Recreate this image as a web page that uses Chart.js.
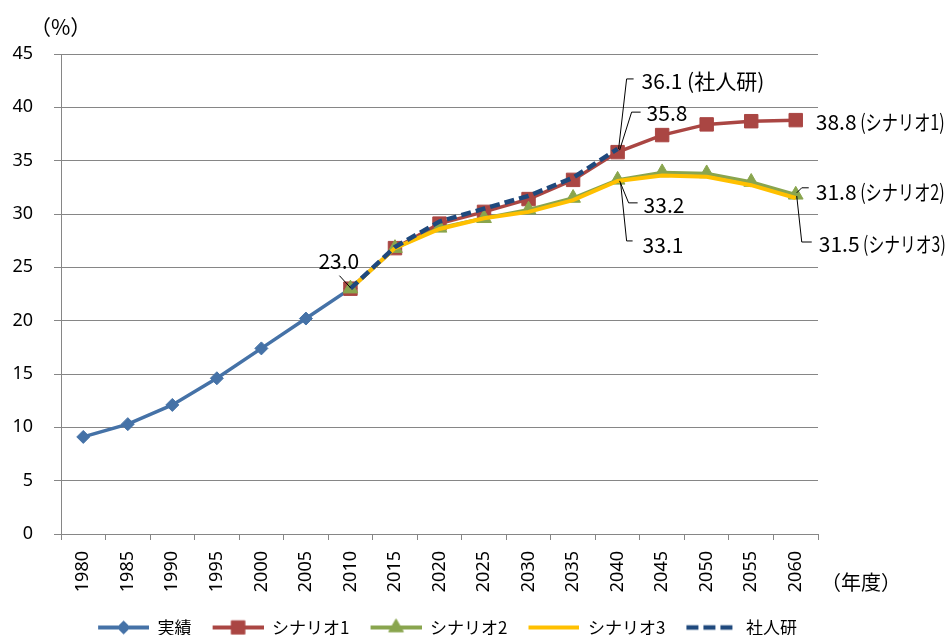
<!DOCTYPE html>
<html>
<head>
<meta charset="utf-8">
<script src="https://cdn.jsdelivr.net/npm/chart.js@4/dist/chart.umd.min.js"></script>
<style>
  html, body { margin: 0; padding: 0; background: #fff; }
  #wrap { width: 946px; height: 635px; }
</style>
</head>
<body>
<div id="wrap"><canvas id="c" width="946" height="635"></canvas></div>
<script>
// 年度
const years = ['1980','1985','1990','1995','2000','2005','2010','2015','2020','2025','2030',
               '2035','2040','2045','2050','2055','2060'];
// 実績 (%)
const actual    = [9.1, 10.3, 12.1, 14.6, 17.4, 20.2, 23.0, null, null, null, null, null, null, null, null, null, null];
// シナリオ1
const scenario1 = [null, null, null, null, null, null, 23.0, 26.8, 29.1, 30.2, 31.4, 33.2, 35.8, 37.4, 38.4, 38.7, 38.8];
// シナリオ2
const scenario2 = [null, null, null, null, null, null, 23.0, 26.8, 28.7, 29.6, 30.4, 31.5, 33.2, 33.9, 33.8, 33.0, 31.8];
// シナリオ3
const scenario3 = [null, null, null, null, null, null, 23.0, 26.8, 28.6, 29.6, 30.2, 31.3, 33.1, 33.6, 33.5, 32.7, 31.5];
// 社人研
const ipss      = [null, null, null, null, null, null, 23.0, 26.9, 29.3, 30.5, 31.7, 33.4, 36.1, null, null, null, null];
const yTicks = [0, 5, 10, 15, 20, 25, 30, 35, 40, 45];

const FONT = "'Noto Sans CJK JP', 'Noto Sans', sans-serif";
const NUMFONT = "'Noto Sans', 'Noto Sans CJK JP', sans-serif";
Chart.defaults.font.family = FONT;
Chart.defaults.color = '#000';

const C_ACT = '#4572A7', C_S1 = '#AA4643', C_S2 = '#89A54E', C_S3 = '#FFC000', C_IPSS = '#1F497D';
const AXIS = '#868686';

// legend swatch: a short line with the series marker in its middle
function swatch(color, lw, dash, style, radius) {
  const cv = document.createElement('canvas');
  cv.width = 66; cv.height = 22;
  const g = cv.getContext('2d');
  g.strokeStyle = color; g.lineWidth = lw; g.setLineDash(dash || []);
  g.beginPath(); g.moveTo(15, 11); g.lineTo(66, 11); g.stroke();
  g.setLineDash([]);
  if (style) {
    g.fillStyle = color; g.strokeStyle = color; g.lineWidth = 1;
    Chart.helpers.drawPoint(g, { pointStyle: style, radius: radius, borderWidth: 1, rotation: 0 }, 40.5, 11);
  }
  return cv;
}
const swatches = [
  swatch(C_ACT, 4, null, 'rectRot', 6.5),
  swatch(C_S1, 4, null, 'rect', 9.5),
  swatch(C_S2, 4, null, 'triangle', 8.5),
  swatch(C_S3, 4, null, null, 0),
  swatch(C_IPSS, 4.5, [12, 5], null, 0)
];

// value call-outs with leader lines (offsets in px from the marked point)
const callouts = [
  { ds: 4, i: 12, suffix: ' (社人研)',   path: [[1,0],[9,-70],[16,-70]], tx: 24, ty: -68 },
  { ds: 1, i: 12, suffix: '',           path: [[2,-2],[14,-40],[23,-40]], tx: 29, ty: -39 },
  { ds: 2, i: 12, suffix: '',           path: [[2,1],[11,23],[20,23]],    tx: 26, ty: 25 },
  { ds: 3, i: 12, suffix: '',           path: [[3,2],[9,60],[15,60]],     tx: 25, ty: 64 },
  { ds: 1, i: 16, suffix: ' (シナリオ1)', path: null,                      tx: 20, ty: 2,  w: 129 },
  { ds: 2, i: 16, suffix: ' (シナリオ2)', path: [[1,-2],[6,-7],[13,-7]],    tx: 20, ty: -3, w: 129 },
  { ds: 3, i: 16, suffix: ' (シナリオ3)', path: [[1,-2],[6,44],[16,44]],    tx: 23, ty: 46, w: 127 },
  { ds: 0, i: 6,  suffix: '',           path: [[-11,-13],[0,-1]],          tx: -32, ty: -28 }
];

const decorPlugin = {
  id: 'decor',
  afterLayout(chart) {
    const lg = chart.legend;
    if (!lg) return;
    const dx = 440 - (lg.left + lg.right) / 2;
    lg.left += dx; lg.right += dx;
    lg.top += 11; lg.bottom += 11;
  },
  afterDraw(chart) {
    const ctx = chart.ctx;
    const xs = chart.scales.x, ys = chart.scales.y;
    ctx.save();
    ctx.fillStyle = '#000';
    ctx.strokeStyle = '#000';
    ctx.lineWidth = 1;
    ctx.textBaseline = 'middle';
    ctx.textAlign = 'left';
    ctx.font = '21px ' + FONT;
    callouts.forEach(c => {
      const v = chart.data.datasets[c.ds].data[c.i];
      const px = xs.getPixelForValue(c.i), py = ys.getPixelForValue(v);
      if (c.path) {
        ctx.beginPath();
        c.path.forEach((p, k) => {
          const X = px + p[0], Y = py + p[1];
          if (k === 0) ctx.moveTo(X, Y); else ctx.lineTo(X, Y);
        });
        ctx.stroke();
      }
      const num = v.toFixed(1);
      const x0 = px + c.tx, y0 = py + c.ty;
      ctx.fillText(num, x0, y0);
      if (c.suffix) {
        const nw = ctx.measureText(num).width;
        if (c.w) ctx.fillText(c.suffix, x0 + nw, y0, c.w - nw);
        else ctx.fillText(c.suffix, x0 + nw, y0);
      }
    });
    // axis units
    ctx.font = '21px ' + FONT;
    ctx.fillText('（%）', 30, 27);
    ctx.font = '20px ' + FONT;
    ctx.fillText('（年度）', 821, 582);
    ctx.restore();
  }
};

new Chart(document.getElementById('c'), {
  type: 'line',
  data: {
    labels: years,
    datasets: [
      { label: '実績', data: actual, borderColor: C_ACT, backgroundColor: C_ACT,
        borderWidth: 3.5, pointStyle: 'rectRot', pointRadius: 6.5, pointBorderWidth: 1, order: 4 },
      { label: 'シナリオ1', data: scenario1, borderColor: C_S1, backgroundColor: C_S1,
        borderWidth: 3.5, pointStyle: 'rect', pointRadius: 9.5, pointBorderWidth: 1, order: 3 },
      { label: 'シナリオ2', data: scenario2, borderColor: C_S2, backgroundColor: C_S2,
        borderWidth: 3.5, pointStyle: 'triangle', pointRadius: 8.5, pointBorderWidth: 1, order: 2 },
      { label: 'シナリオ3', data: scenario3, borderColor: C_S3, backgroundColor: C_S3,
        borderWidth: 4, pointRadius: 0, order: 1 },
      { label: '社人研', data: ipss, borderColor: C_IPSS, backgroundColor: C_IPSS,
        borderWidth: 4.5, borderDash: [10, 5], pointRadius: 0, order: 0 }
    ]
  },
  options: {
    responsive: false,
    animation: false,
    events: [],
    spanGaps: false,
    layout: { padding: { top: 54, right: 128, left: 0, bottom: 0 } },
    plugins: {
      tooltip: { enabled: false },
      legend: {
        position: 'bottom',
        labels: {
          usePointStyle: true,
          pointStyleWidth: 66,
          padding: 6,
          color: '#000',
          font: { size: 17, family: FONT },
          generateLabels(chart) {
            return chart.data.datasets.map((d, i) => ({
              text: d.label, datasetIndex: i, pointStyle: swatches[i],
              fillStyle: d.borderColor, strokeStyle: d.borderColor, lineWidth: 0, hidden: false
            }));
          }
        }
      }
    },
    scales: {
      x: {
        type: 'category',
        offset: true,
        border: { color: AXIS, width: 1 },
        grid: { offset: true, drawOnChartArea: false, drawTicks: true, tickLength: 6, color: AXIS },
        ticks: { minRotation: 90, maxRotation: 90, autoSkip: false, padding: 11,
                 font: { size: 18, family: NUMFONT }, color: '#000' },
        afterFit(scale) { scale.height = 68; }
      },
      y: {
        min: 0, max: 45,
        afterBuildTicks(scale) { scale.ticks = yTicks.map(v => ({ value: v })); },
        border: { color: AXIS, width: 1 },
        grid: { color: AXIS, lineWidth: 1, drawTicks: true, tickLength: 7 },
        ticks: { padding: 21, font: { size: 18, family: NUMFONT }, color: '#000' },
        afterFit(scale) { scale.width = 61; }
      }
    }
  },
  plugins: [decorPlugin]
});
</script>
</body>
</html>
